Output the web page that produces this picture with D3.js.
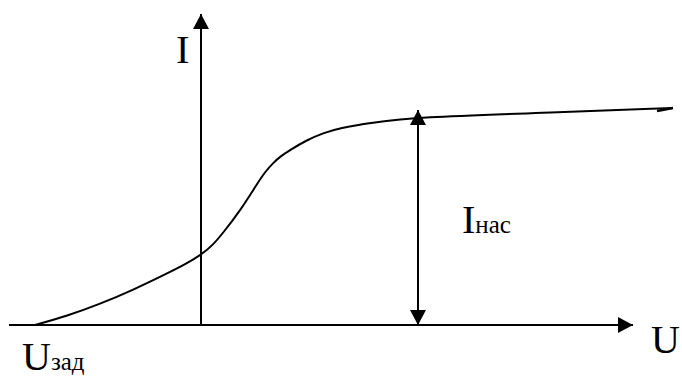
<!DOCTYPE html>
<html>
<head>
<meta charset="utf-8">
<script src="https://cdn.jsdelivr.net/npm/d3@7"></script>
<style>
  html, body { margin: 0; padding: 0; background: #fff; }
  svg { display: block; }
  text { font-family: "Liberation Serif", "Times New Roman", "DejaVu Serif", serif; }
</style>
</head>
<body>
<svg width="682" height="379"></svg>
<script>
// characteristic I(U)
const curveU = [-3.32, -2.68, -2.02, -1.36, -0.68, -0.3, 0.02, 0.22, 0.44, 0.78, 1.12, 1.28, 1.44, 1.6, 1.78, 2.12, 2.44, 2.78, 3.38, 4.34, 6.8, 9.44];
const curveI = [0, 0.18, 0.42, 0.70, 1.03, 1.22, 1.42, 1.58, 1.84, 2.28, 2.82, 3.06, 3.24, 3.38, 3.50, 3.70, 3.84, 3.94, 4.04, 4.16, 4.24, 4.34];
const tailU = [9.44, 9.12];
const tailI = [4.34, 4.28];

const uAxisExtent = [-3.84, 8.64];
const iAxisExtent = [0, 6.22];
const satU = 4.34;
const satExtent = [0, 4.3];

const labelI = 'I';
const labelU = 'U';
const labelSat = ['I', 'нас'];
const labelU0 = ['U', 'зад'];

const x = d3.scaleLinear([-4, 10], [1, 701]);
const y = d3.scaleLinear([0, 6], [325, 25]);

const svg = d3.select('svg');

const defs = svg.append('defs');
defs.append('marker')
  .attr('id', 'arrow')
  .attr('viewBox', '0 0 15 16')
  .attr('refX', 15)
  .attr('refY', 8)
  .attr('markerWidth', 15)
  .attr('markerHeight', 16)
  .attr('markerUnits', 'userSpaceOnUse')
  .attr('orient', 'auto-start-reverse')
  .append('path')
    .attr('d', 'M0,0L15,8L0,16Z')
    .attr('fill', '#000');

// axes
svg.append('line')
  .attr('x1', x(uAxisExtent[0]))
  .attr('x2', x(uAxisExtent[1]))
  .attr('y1', y(0))
  .attr('y2', y(0))
  .attr('stroke', '#000')
  .attr('stroke-width', 2)
  .attr('marker-end', 'url(#arrow)');

svg.append('line')
  .attr('x1', x(0))
  .attr('x2', x(0))
  .attr('y1', y(iAxisExtent[0]))
  .attr('y2', y(iAxisExtent[1]))
  .attr('stroke', '#000')
  .attr('stroke-width', 2)
  .attr('marker-end', 'url(#arrow)');

// saturation current arrow
svg.append('line')
  .attr('x1', x(satU))
  .attr('x2', x(satU))
  .attr('y1', y(satExtent[0]))
  .attr('y2', y(satExtent[1]))
  .attr('stroke', '#000')
  .attr('stroke-width', 2)
  .attr('marker-start', 'url(#arrow)')
  .attr('marker-end', 'url(#arrow)');

// curve
const line = d3.line()
  .x((d) => x(d[0]))
  .y((d) => y(d[1]))
  .curve(d3.curveBasis);

svg.append('path')
  .datum(d3.zip(curveU, curveI))
  .attr('d', line)
  .attr('fill', 'none')
  .attr('stroke', '#000')
  .attr('stroke-width', 2);

svg.append('path')
  .datum(d3.zip(tailU, tailI))
  .attr('d', d3.line().x((d) => x(d[0])).y((d) => y(d[1])))
  .attr('fill', 'none')
  .attr('stroke', '#000')
  .attr('stroke-width', 2.5);

// labels
svg.append('text')
  .attr('x', 176)
  .attr('y', 63)
  .attr('font-size', 40)
  .text(labelI);

svg.append('text')
  .attr('x', 651)
  .attr('y', 353)
  .attr('font-size', 40)
  .text(labelU);

const sat = svg.append('text')
  .attr('x', 462)
  .attr('y', 233)
  .attr('font-size', 40);
sat.append('tspan').text(labelSat[0]);
sat.append('tspan').attr('font-size', 25).text(labelSat[1]);

const u0 = svg.append('text')
  .attr('x', 22)
  .attr('y', 370)
  .attr('font-size', 40);
u0.append('tspan').text(labelU0[0]);
u0.append('tspan').attr('font-size', 25).text(labelU0[1]);
</script>
</body>
</html>
